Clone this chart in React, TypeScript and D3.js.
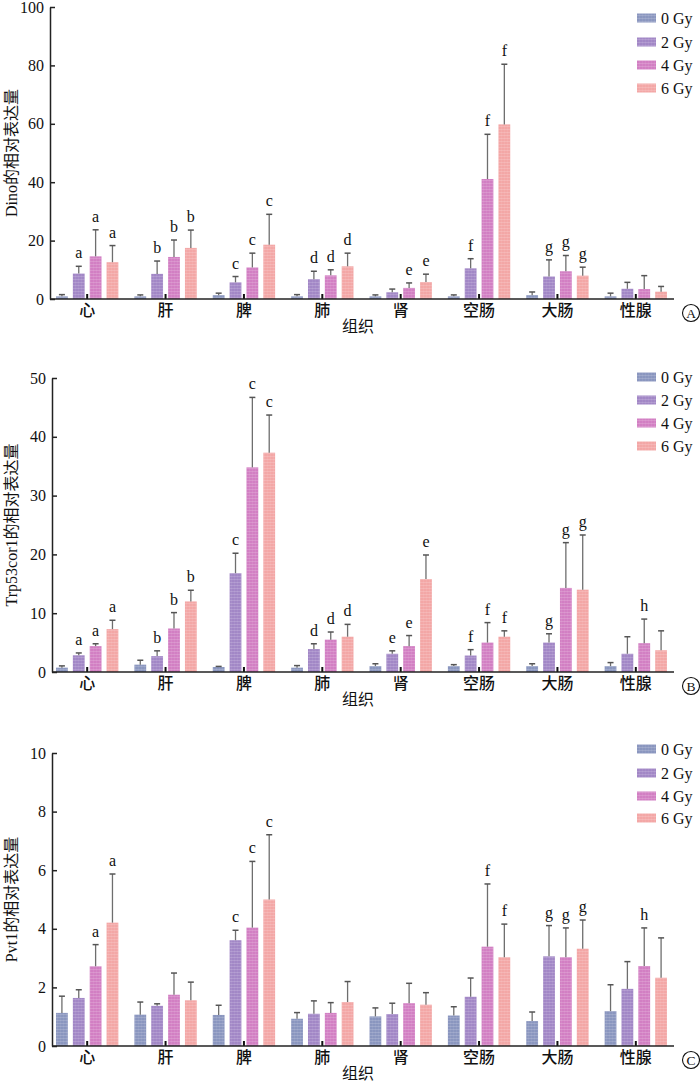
import React, { useEffect, useRef } from 'react';
import * as d3 from 'd3';

// categories / series
const tissues = ['心', '肝', '脾', '肺', '肾', '空肠', '大肠', '性腺'];
const doses = ['0 Gy', '2 Gy', '4 Gy', '6 Gy'];
const doseColors = ['#8a96bf', '#a287c6', '#d27fc3', '#f3a7a6'];

// Dino (A): mean per dose, rows = doses, cols = tissues
const dinoMean = [
  [0.9, 0.9, 1.3, 0.9, 0.9, 0.9, 1.3, 0.9],
  [8.7, 8.6, 5.7, 6.8, 2.3, 10.5, 7.7, 3.5],
  [14.6, 14.4, 10.8, 8.1, 3.8, 41.1, 9.5, 3.4],
  [12.6, 17.5, 18.6, 11.2, 5.8, 59.8, 8.0, 2.5],
];
const dinoSd = [
  [0.6, 0.5, 0.7, 0.6, 0.5, 0.5, 1.1, 1.1],
  [2.5, 4.4, 2.0, 2.7, 1.1, 3.3, 5.7, 2.2],
  [9.1, 5.8, 4.9, 1.9, 1.7, 15.3, 5.4, 4.6],
  [5.7, 6.1, 10.4, 4.5, 2.7, 20.6, 2.9, 1.8],
];
const dinoSig = [
  ['', '', '', '', '', '', '', ''],
  ['a', 'b', 'c', 'd', '', 'f', 'g', ''],
  ['a', 'b', 'c', 'd', 'e', 'f', 'g', ''],
  ['a', 'b', 'c', 'd', 'e', 'f', 'g', ''],
];
const dinoTicks = [0, 20, 40, 60, 80, 100];

// Trp53cor1 (B)
const trpMean = [
  [0.74, 1.25, 0.85, 0.74, 1.0, 1.0, 1.0, 1.0],
  [2.84, 2.7, 16.8, 3.9, 3.1, 2.8, 5.0, 3.1],
  [4.4, 7.4, 34.8, 5.5, 4.4, 5.0, 14.3, 4.9],
  [7.3, 12.0, 37.3, 6.0, 15.8, 6.0, 14.0, 3.7],
];
const trpSd = [
  [0.3, 0.75, 0.1, 0.35, 0.4, 0.25, 0.4, 0.6],
  [0.4, 0.9, 3.4, 0.9, 0.5, 1.0, 1.5, 2.9],
  [0.4, 2.7, 11.9, 1.3, 1.8, 3.4, 7.7, 4.1],
  [1.5, 1.9, 6.4, 2.1, 4.1, 1.0, 9.3, 3.3],
];
const trpSig = [
  ['', '', '', '', '', '', '', ''],
  ['a', 'b', 'c', 'd', 'e', 'f', 'g', ''],
  ['a', 'b', 'c', 'd', 'e', 'f', 'g', 'h'],
  ['a', 'b', 'c', 'd', 'e', 'f', 'g', ''],
];
const trpTicks = [0, 10, 20, 30, 40, 50];

// Pvt1 (C)
const pvtMean = [
  [1.13, 1.07, 1.06, 0.93, 1.01, 1.04, 0.85, 1.19],
  [1.64, 1.37, 3.61, 1.1, 1.09, 1.68, 3.06, 1.95],
  [2.72, 1.75, 4.04, 1.13, 1.46, 3.39, 3.03, 2.73],
  [4.21, 1.56, 5.0, 1.5, 1.41, 3.03, 3.32, 2.33],
];
const pvtSd = [
  [0.57, 0.43, 0.33, 0.21, 0.29, 0.3, 0.31, 0.9],
  [0.28, 0.07, 0.34, 0.44, 0.37, 0.64, 1.05, 0.93],
  [0.74, 0.74, 2.26, 0.35, 0.68, 2.14, 1.0, 1.3],
  [1.66, 0.62, 2.21, 0.7, 0.41, 1.13, 0.98, 1.36],
];
const pvtSig = [
  ['', '', '', '', '', '', '', ''],
  ['', '', 'c', '', '', '', 'g', ''],
  ['a', '', 'c', '', '', 'f', 'g', 'h'],
  ['a', '', 'c', '', '', 'f', 'g', ''],
];
const pvtTicks = [0, 2, 4, 6, 8, 10];

const serif = '"Liberation Serif", "Times New Roman", serif';
const cjk = '"Liberation Serif", "Noto Sans CJK SC", serif';

const panels = [
  { title: 'Dino的相对表达量', mean: dinoMean, sd: dinoSd, sig: dinoSig, ticks: dinoTicks,
    top: 7, bottom: 299, axisX: 50, legendY: [18, 42, 65, 88], mark: 'A' },
  { title: 'Trp53cor1的相对表达量', mean: trpMean, sd: trpSd, sig: trpSig, ticks: trpTicks,
    top: 378, bottom: 672, axisX: 52, legendY: [377, 400, 423, 446], mark: 'B' },
  { title: 'Pvt1的相对表达量', mean: pvtMean, sd: pvtSd, sig: pvtSig, ticks: pvtTicks,
    top: 753, bottom: 1046, axisX: 52, legendY: [749, 773, 796, 818], mark: 'C' },
];

const App = () => {
  const ref = useRef(null);

  useEffect(() => {
    const svg = d3.select(ref.current);
    svg.selectAll('*').remove();

    // faint grid texture on the bars
    const pat = svg.append('defs').append('pattern')
      .attr('id', 'tex').attr('patternUnits', 'userSpaceOnUse')
      .attr('width', 3).attr('height', 3);
    pat.append('path').attr('d', 'M0,0.5H3').attr('stroke', '#fff')
      .attr('stroke-opacity', 0.22).attr('stroke-width', 0.7);
    pat.append('path').attr('d', 'M0.5,0V3').attr('stroke', '#fff')
      .attr('stroke-opacity', 0.1).attr('stroke-width', 0.6);

    panels.forEach(p => {
      const g = svg.append('g');
      const yMax = p.ticks[p.ticks.length - 1];
      const y = d3.scaleLinear().domain([0, yMax]).range([p.bottom, p.top]);
      const x0 = d3.scaleBand().domain(tissues).range([48, 675])
        .paddingInner(0.14).paddingOuter(0.07);
      const x1 = d3.scaleBand().domain(doses).range([0, x0.bandwidth()])
        .paddingInner(0.3).paddingOuter(0.15);

      doses.forEach((dose, i) => {
        const rows = tissues.map((t, j) => ({
          t, m: p.mean[i][j], s: p.sd[i][j], l: p.sig[i][j],
        }));
        const bx = d => x0(d.t) + x1(dose);
        const cx = d => bx(d) + x1.bandwidth() / 2;

        const bars = g.append('g');
        bars.selectAll('rect.bar').data(rows).enter().append('rect')
          .attr('class', 'bar')
          .attr('x', bx).attr('width', x1.bandwidth())
          .attr('y', d => y(d.m)).attr('height', d => y(0) - y(d.m))
          .attr('fill', doseColors[i]);
        bars.selectAll('rect.tex').data(rows).enter().append('rect')
          .attr('class', 'tex')
          .attr('x', bx).attr('width', x1.bandwidth())
          .attr('y', d => y(d.m)).attr('height', d => y(0) - y(d.m))
          .attr('fill', 'url(#tex)');

        // error bars
        bars.selectAll('line.err').data(rows).enter().append('line')
          .attr('x1', cx).attr('x2', cx)
          .attr('y1', d => y(d.m)).attr('y2', d => y(d.m + d.s))
          .attr('stroke', '#6e6e6e').attr('stroke-width', 1.3);
        bars.selectAll('line.cap').data(rows).enter().append('line')
          .attr('x1', d => cx(d) - 3).attr('x2', d => cx(d) + 3)
          .attr('y1', d => y(d.m + d.s)).attr('y2', d => y(d.m + d.s))
          .attr('stroke', '#555').attr('stroke-width', 1.5);

        bars.selectAll('text.sig').data(rows.filter(d => d.l)).enter().append('text')
          .attr('x', cx).attr('y', d => y(d.m + d.s) - 8)
          .attr('text-anchor', 'middle')
          .style('font-family', serif).style('font-size', '16px').style('fill', '#111')
          .text(d => d.l);
      });

      // y axis
      const yAxis = g.append('g')
        .attr('transform', `translate(${p.axisX},0)`)
        .call(d3.axisLeft(y).tickValues(p.ticks).tickSize(-5).tickSizeOuter(0).tickPadding(6));
      yAxis.select('.domain').attr('stroke', '#222').attr('stroke-width', 1.5);
      yAxis.selectAll('.tick line').attr('stroke', '#222').attr('stroke-width', 1.5);
      yAxis.selectAll('text').style('font-family', serif).style('font-size', '16px').style('fill', '#111');

      // x axis
      const xAxis = g.append('g')
        .attr('transform', `translate(0,${p.bottom})`)
        .call(d3.axisBottom(x0).tickSize(-5).tickSizeOuter(0).tickPadding(6));
      xAxis.select('.domain').remove();
      xAxis.selectAll('.tick line').attr('stroke', '#111').attr('stroke-width', 2);
      xAxis.selectAll('text')
        .style('font-family', '"Noto Sans CJK SC", sans-serif').style('font-size', '16px')
        .style('font-weight', 500).style('fill', '#111');
      g.append('line')
        .attr('x1', p.axisX).attr('x2', 674)
        .attr('y1', p.bottom).attr('y2', p.bottom)
        .attr('stroke', '#222').attr('stroke-width', 1.5);

      // axis titles
      g.append('text')
        .attr('x', 358).attr('y', p.bottom + 33)
        .attr('text-anchor', 'middle')
        .style('font-family', '"Noto Sans CJK SC", sans-serif').style('font-size', '16px')
        .style('fill', '#111')
        .text('组织');
      g.append('text')
        .attr('transform', `translate(17,${(p.top + p.bottom) / 2}) rotate(-90)`)
        .attr('text-anchor', 'middle')
        .style('font-family', cjk).style('font-size', '16px').style('fill', '#111')
        .text(p.title);

      // legend
      const leg = g.append('g');
      doses.forEach((dose, i) => {
        leg.append('rect')
          .attr('x', 637).attr('y', p.legendY[i] - 4.5)
          .attr('width', 19).attr('height', 9)
          .attr('fill', doseColors[i]);
        leg.append('rect')
          .attr('x', 637).attr('y', p.legendY[i] - 4.5)
          .attr('width', 19).attr('height', 9)
          .attr('fill', 'url(#tex)');
        leg.append('text')
          .attr('x', 661).attr('y', p.legendY[i] + 5.5)
          .style('font-family', serif).style('font-size', '16px').style('fill', '#111')
          .text(dose);
      });

      // circled panel mark
      g.append('circle')
        .attr('cx', 691).attr('cy', p.bottom + 14).attr('r', 8.5)
        .attr('fill', 'none').attr('stroke', '#111').attr('stroke-width', 1.1);
      g.append('text')
        .attr('x', 691).attr('y', p.bottom + 18.8)
        .attr('text-anchor', 'middle')
        .style('font-family', serif).style('font-size', '13.5px').style('fill', '#111')
        .text(p.mark);
    });
  }, []);

  return (
    <svg
      ref={ref}
      width={700}
      height={1083}
      style={{ position: 'absolute', left: 0, top: 0, background: '#fff' }}
    />
  );
};

export default App;
